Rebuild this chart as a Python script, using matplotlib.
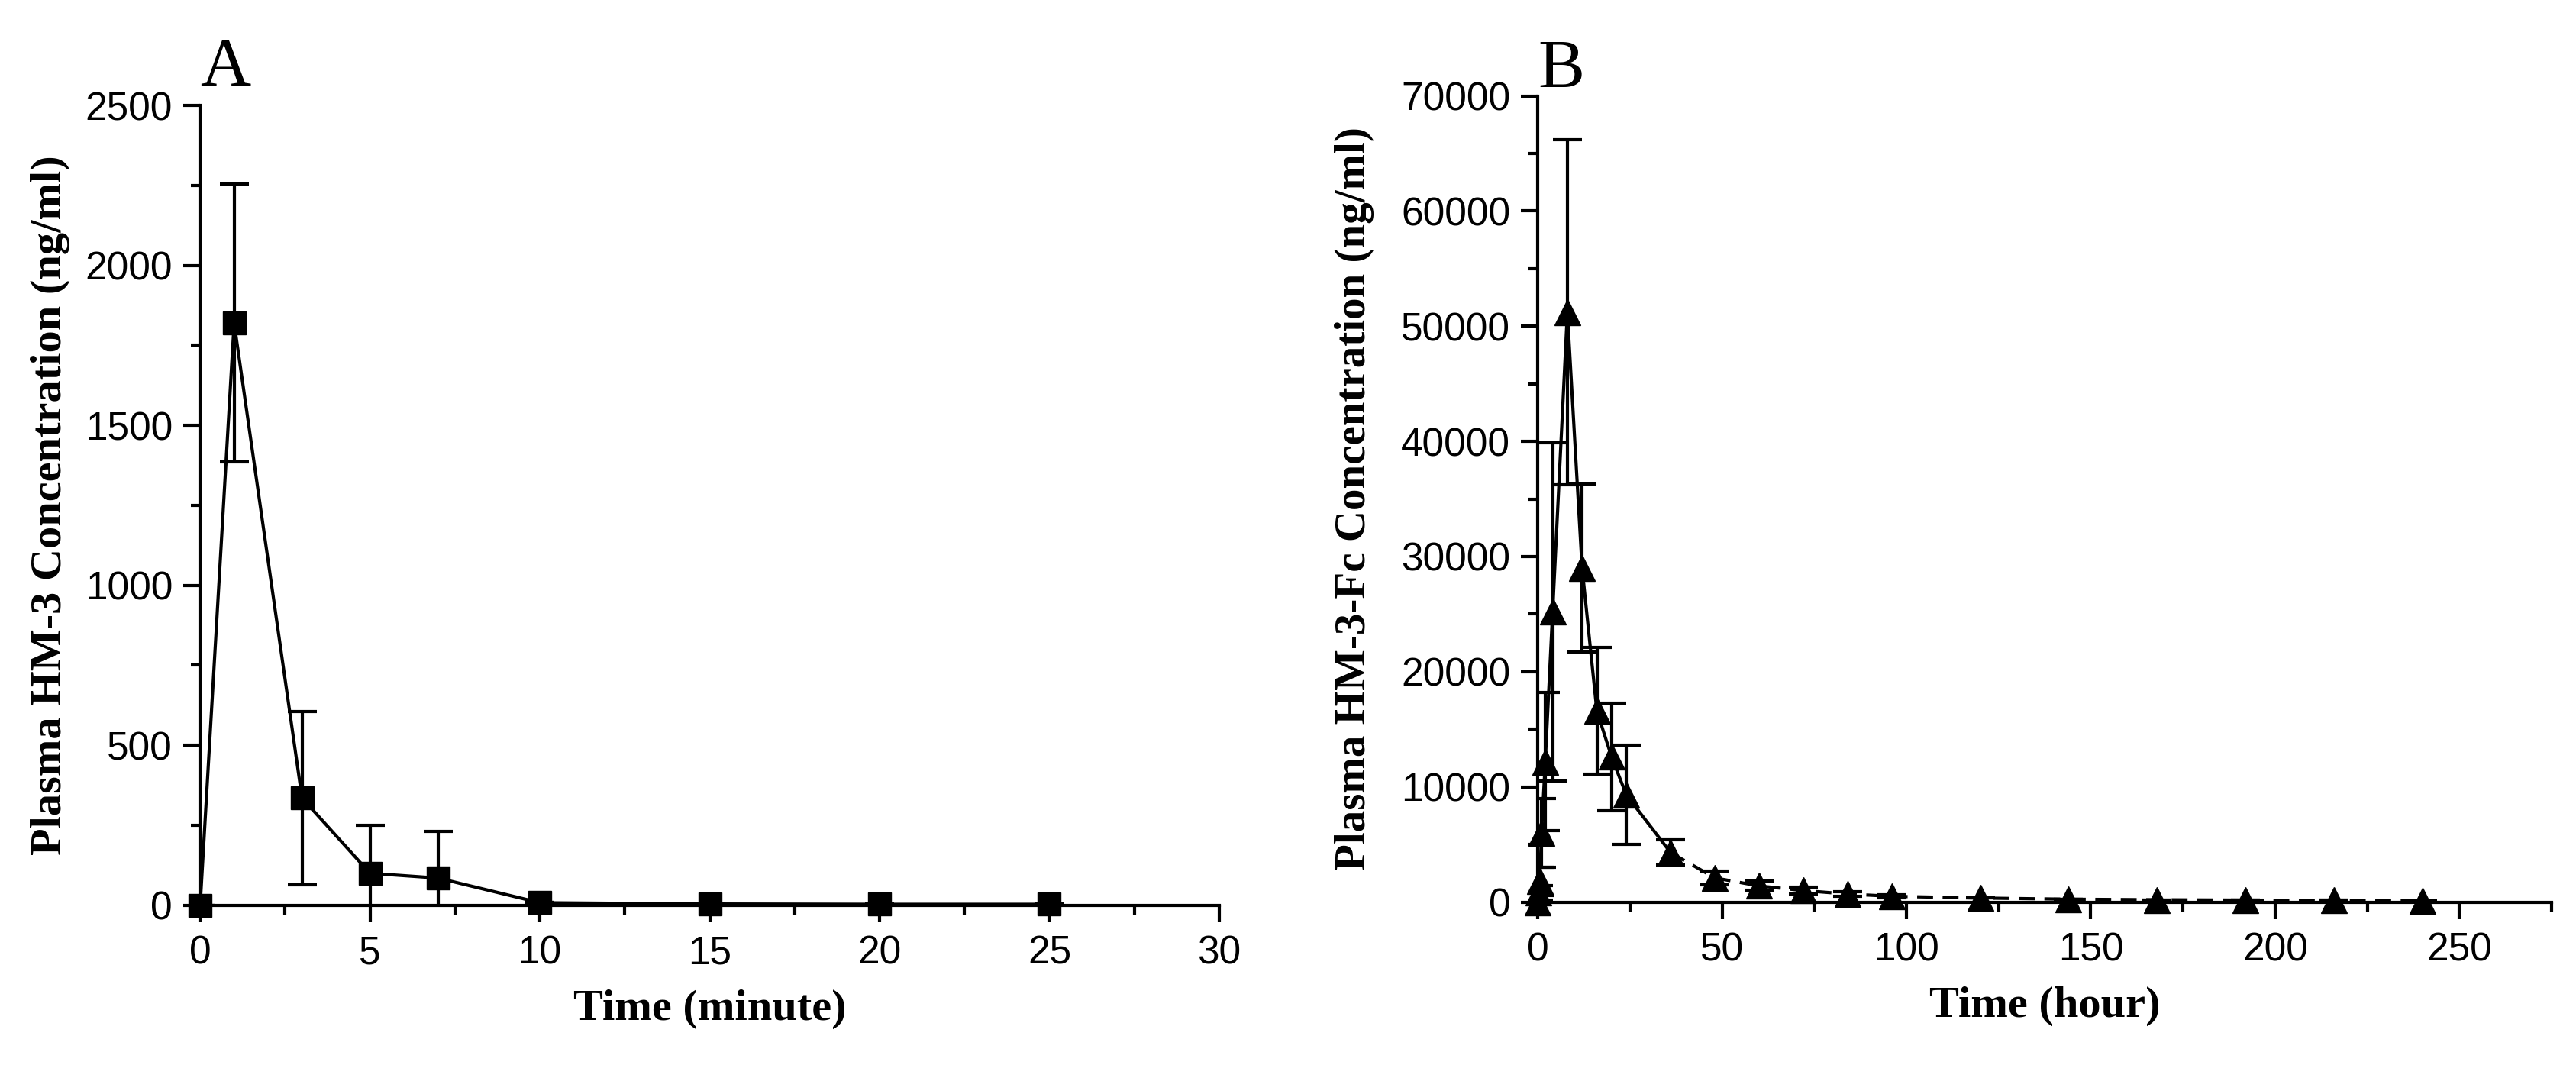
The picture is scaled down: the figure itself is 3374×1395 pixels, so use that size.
import numpy as np
import matplotlib.pyplot as plt
from matplotlib.ticker import MultipleLocator

# panel A: HM-3, time in minutes
tA = [0, 1, 3, 5, 7, 10, 15, 20, 25]
cA = [0, 1820, 335, 100, 85, 8, 4, 3, 3]
eA = [0, 435, 270, 150, 145, 0, 0, 0, 0]

# panel B: HM-3-Fc, time in hours
tB = [0, 0.25, 0.5, 1, 2, 4, 8, 12, 16, 20, 24, 36,
      48, 60, 72, 84, 96, 120, 144, 168, 192, 216, 240]
cB = [0, 800, 1800, 6000, 12200, 25200, 51200, 29000, 16600, 12600, 9300, 4300,
      2100, 1400, 1000, 700, 500, 350, 250, 200, 170, 150, 130]
eB = [0, 600, 1200, 3000, 6000, 14700, 15000, 7300, 5500, 4700, 4300, 1100,
      600, 400, 300, 200, 150, 0, 0, 0, 0, 0, 0]
nSolid = 12  # points joined by solid line (up to 36 h), rest dashed

sans = "Liberation Sans"
serif = "Liberation Serif"

fig = plt.figure(figsize=(33.74, 13.95), dpi=100)
axA = fig.add_axes([0.0777, 0.150, 0.3956, 0.751])
axB = fig.add_axes([0.597, 0.153, 0.3935, 0.757])

def style(ax):
    for s in ["top", "right"]:
        ax.spines[s].set_visible(False)
    for s in ["left", "bottom"]:
        ax.spines[s].set_linewidth(3)
    ax.tick_params(which="major", direction="out", length=16, width=3,
                   labelsize=37, pad=10)
    ax.tick_params(axis="x", which="major", pad=12)
    ax.tick_params(which="minor", direction="out", length=9, width=3)
    for lab in ax.get_xticklabels() + ax.get_yticklabels():
        lab.set_fontfamily(sans)

# A
axA.errorbar(tA, cA, yerr=eA, fmt="none", ecolor="black", elinewidth=3,
             capsize=14, capthick=3)
axA.plot(tA, cA, color="black", lw=3, marker="s", markersize=21, clip_on=False)
axA.set_xlim(0, 30)
axA.set_ylim(0, 2500)
axA.xaxis.set_major_locator(MultipleLocator(5))
axA.xaxis.set_minor_locator(MultipleLocator(2.5))
axA.yaxis.set_major_locator(MultipleLocator(500))
axA.yaxis.set_minor_locator(MultipleLocator(250))
style(axA)
axA.set_xlabel("Time (minute)", fontfamily=serif, fontweight="bold", fontsize=42, labelpad=16)
axA.set_ylabel("Plasma HM-3 Concentration (ng/ml)", fontfamily=serif,
               fontweight="bold", fontsize=42, labelpad=14)

# B
axB.errorbar(tB, cB, yerr=eB, fmt="none", ecolor="black", elinewidth=3,
             capsize=14, capthick=3)
axB.plot(tB[:nSolid], cB[:nSolid], color="black", lw=3, clip_on=False)
axB.plot(tB[nSolid - 1:], cB[nSolid - 1:], color="black", lw=3, ls=(0, (5, 3)), clip_on=False)
axB.plot(tB, cB, color="black", lw=0, marker="^", markersize=24, clip_on=False)
axB.set_xlim(0, 275)
axB.set_ylim(0, 70000)
axB.xaxis.set_major_locator(MultipleLocator(50))
axB.xaxis.set_minor_locator(MultipleLocator(25))
axB.yaxis.set_major_locator(MultipleLocator(10000))
axB.yaxis.set_minor_locator(MultipleLocator(5000))
style(axB)
axB.set_xlabel("Time (hour)", fontfamily=serif, fontweight="bold", fontsize=42, labelpad=16)
axB.set_ylabel("Plasma HM-3-Fc Concentration (ng/ml)", fontfamily=serif,
               fontweight="bold", fontsize=41, labelpad=25)

# panel letters
fig.text(0.0777, 0.965, "A", fontfamily=serif, fontsize=66, ha="left", va="top")
fig.text(0.597, 0.963, "B", fontfamily=serif, fontsize=66, ha="left", va="top")

fig.savefig("out.png", dpi=100)
